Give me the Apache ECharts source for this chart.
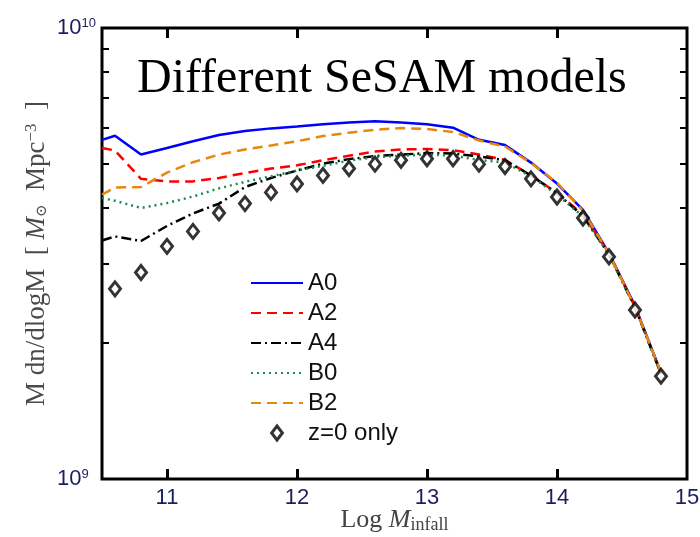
<!DOCTYPE html>
<html><head><meta charset="utf-8">
<script src="https://cdn.jsdelivr.net/npm/echarts@6/dist/echarts.min.js"></script>
<style>html,body{margin:0;padding:0;background:#fff}#c{width:700px;height:537px}</style>
</head><body><div id="c"></div>
<script>
// Log M_infall bins
const massBins = [10.5, 10.6, 10.8, 11.0, 11.2, 11.4, 11.6, 11.8, 12.0, 12.2, 12.4, 12.6, 12.8, 13.0, 13.2, 13.4, 13.6, 13.8, 14.0, 14.2, 14.4, 14.6, 14.8];
const diamondBins = [10.6, 10.8, 11.0, 11.2, 11.4, 11.6, 11.8, 12.0, 12.2, 12.4, 12.6, 12.8, 13.0, 13.2, 13.4, 13.6, 13.8, 14.0, 14.2, 14.4, 14.6, 14.8];
// values in units of 1e9 M_sun Mpc^-3
const A0 = [5.65, 5.77, 5.24, 5.42, 5.61, 5.79, 5.91, 5.99, 6.05, 6.12, 6.17, 6.21, 6.17, 6.12, 6.01, 5.65, 5.50, 5.03, 4.52, 3.95, 3.17, 2.42, 1.72];
const A2 = [5.42, 5.35, 4.63, 4.57, 4.57, 4.65, 4.77, 4.88, 4.96, 5.09, 5.21, 5.32, 5.38, 5.39, 5.36, 5.24, 5.10, 4.71, 4.31, 3.86, 3.16, 2.41, 1.72];
const A4 = [3.38, 3.45, 3.37, 3.64, 3.88, 4.08, 4.44, 4.65, 4.83, 5.00, 5.12, 5.20, 5.24, 5.28, 5.27, 5.19, 5.09, 4.71, 4.30, 3.83, 3.15, 2.40, 1.71];
const B0 = [4.20, 4.14, 3.99, 4.09, 4.23, 4.41, 4.56, 4.69, 4.83, 4.95, 5.08, 5.17, 5.21, 5.24, 5.21, 5.10, 5.03, 4.69, 4.27, 3.82, 3.14, 2.40, 1.71];
const B2 = [4.27, 4.43, 4.44, 4.78, 5.04, 5.24, 5.38, 5.49, 5.61, 5.76, 5.86, 5.95, 6.00, 5.97, 5.88, 5.63, 5.46, 5.02, 4.54, 3.93, 3.16, 2.41, 1.72];
const Z0only = [2.64, 2.87, 3.28, 3.54, 3.89, 4.08, 4.32, 4.51, 4.71, 4.88, 4.99, 5.09, 5.13, 5.13, 4.99, 4.93, 4.63, 4.22, 3.79, 3.11, 2.37, 1.69];
const UNIT = 1e9;
const xTickLabels = [11, 12, 13, 14, 15];
const xTicks = [11, 12, 13, 14];
const yMinorTicks = [2e9, 3e9, 4e9, 5e9, 6e9, 7e9, 8e9, 9e9];
const lineNames = ['A0', 'A2', 'A4', 'B0', 'B2'];
const pointName = 'z=0 only';

const pairs = (xs, ys) => xs.map((x, i) => [x, ys[i] * UNIT]);

const chart = echarts.init(document.getElementById('c'));
const tickStyle = { show: true, inside: true, length: 8, lineStyle: { color: '#000', width: 2 } };
const lineSeries = (name, data, color, type, width) => ({
  name, type: 'line', data: pairs(massBins, data), showSymbol: false, symbol: 'none',
  lineStyle: { color, type, width }, itemStyle: { color }, animation: false
});
const diamondStyle = { color: '#fff', borderColor: '#000', borderWidth: 3 };
chart.setOption({
  animation: false,
  title: {
    text: 'Different SeSAM models', left: 132, top: 50,
    textStyle: { fontFamily: 'Liberation Serif', fontSize: 48, fontWeight: 'normal', color: '#000' }
  },
  grid: { left: 102, right: 13, top: 28, bottom: 58, show: true, borderColor: '#000', borderWidth: 3, backgroundColor: 'transparent', containLabel: false, outerBoundsMode: 'none' },
  legend: {
    orient: 'vertical', left: 250, top: 271, padding: 0, itemWidth: 52, itemHeight: 14, itemGap: 6,
    data: lineNames.map(n => ({ name: n, itemStyle: { opacity: 0 } })).concat([
      { name: pointName, icon: 'path://M5 0L10 6.5L5 13L0 6.5Z', itemStyle: diamondStyle }
    ]),
    textStyle: { fontFamily: 'Liberation Sans', fontSize: 24, color: '#111' }
  },
  xAxis: [{
    type: 'value', min: 10.5, max: 15, position: 'bottom',
    name: '{r|Log }{i|M}{s|infall}', nameLocation: 'middle', nameGap: 28, nameMoveOverlap: false,
    nameTextStyle: { rich: {
      r: { fontFamily: 'Liberation Serif', fontSize: 26, color: '#444' },
      i: { fontFamily: 'Liberation Serif', fontSize: 26, fontStyle: 'italic', color: '#444' },
      s: { fontFamily: 'Liberation Serif', fontSize: 18, color: '#444', verticalAlign: 'bottom', padding: [9, 0, 0, 0] }
    } },
    axisLine: { show: false }, splitLine: { show: false },
    axisTick: Object.assign({ customValues: xTicks }, tickStyle, { length: 10, lineStyle: { color: '#000', width: 3 } }),
    axisLabel: { customValues: xTickLabels, margin: 8, fontFamily: 'Liberation Sans', fontSize: 22, color: '#1b1f5e' }
  }, {
    type: 'value', min: 10.5, max: 15, position: 'top',
    axisLine: { show: false }, splitLine: { show: false }, axisLabel: { show: false },
    axisTick: Object.assign({ customValues: xTicks }, tickStyle, { length: 10, lineStyle: { color: '#000', width: 3 } })
  }],
  yAxis: [{
    type: 'log', logBase: 10, min: 1e9, max: 1e10, position: 'left',
    name: '{r|M dn/dlogM  [ }{i|M}{sb|⊙}{r|  Mpc}{sp|−3}{r|  ]}', nameLocation: 'middle', nameGap: 52, nameRotate: 90, nameMoveOverlap: false,
    nameTextStyle: { rich: {
      r: { fontFamily: 'Liberation Serif', fontSize: 27, color: '#4a4a4a' },
      i: { fontFamily: 'Liberation Serif', fontSize: 27, fontStyle: 'italic', color: '#4a4a4a' },
      sb: { fontFamily: 'DejaVu Serif', fontSize: 15, color: '#4a4a4a', verticalAlign: 'bottom' },
      sp: { fontFamily: 'Liberation Serif', fontSize: 17, color: '#4a4a4a', verticalAlign: 'top' }
    } },
    axisLine: { show: false }, splitLine: { show: false }, minorSplitLine: { show: false },
    axisTick: Object.assign({ customValues: yMinorTicks }, tickStyle, { length: 7 }),
    axisLabel: {
      margin: 45, align: 'left',
      formatter: v => '{b|10}{s|' + Math.round(Math.log10(v)) + '}',
      rich: {
        b: { fontFamily: 'Liberation Sans', fontSize: 22, color: '#1b1f5e' },
        s: { fontFamily: 'Liberation Sans', fontSize: 13, color: '#1b1f5e', verticalAlign: 'top' }
      }
    }
  }, {
    type: 'log', logBase: 10, min: 1e9, max: 1e10, position: 'right',
    axisLine: { show: false }, splitLine: { show: false }, axisLabel: { show: false },
    axisTick: Object.assign({ customValues: yMinorTicks }, tickStyle, { length: 7 })
  }],
  series: [
    lineSeries('A0', A0, '#0000ff', 'solid', 2.5),
    lineSeries('A2', A2, '#ff0000', [10, 6], 2.5),
    lineSeries('A4', A4, '#000000', [10, 4, 2, 4], 2.5),
    lineSeries('B0', B0, '#1f8a4c', [2, 4], 2.5),
    lineSeries('B2', B2, '#e8870e', [10, 6], 2.5),
    {
      name: pointName, type: 'scatter', data: pairs(diamondBins, Z0only),
      symbol: 'diamond', symbolSize: [11, 14],
      itemStyle: diamondStyle, z: 5
    }
  ]
});
</script></body></html>
